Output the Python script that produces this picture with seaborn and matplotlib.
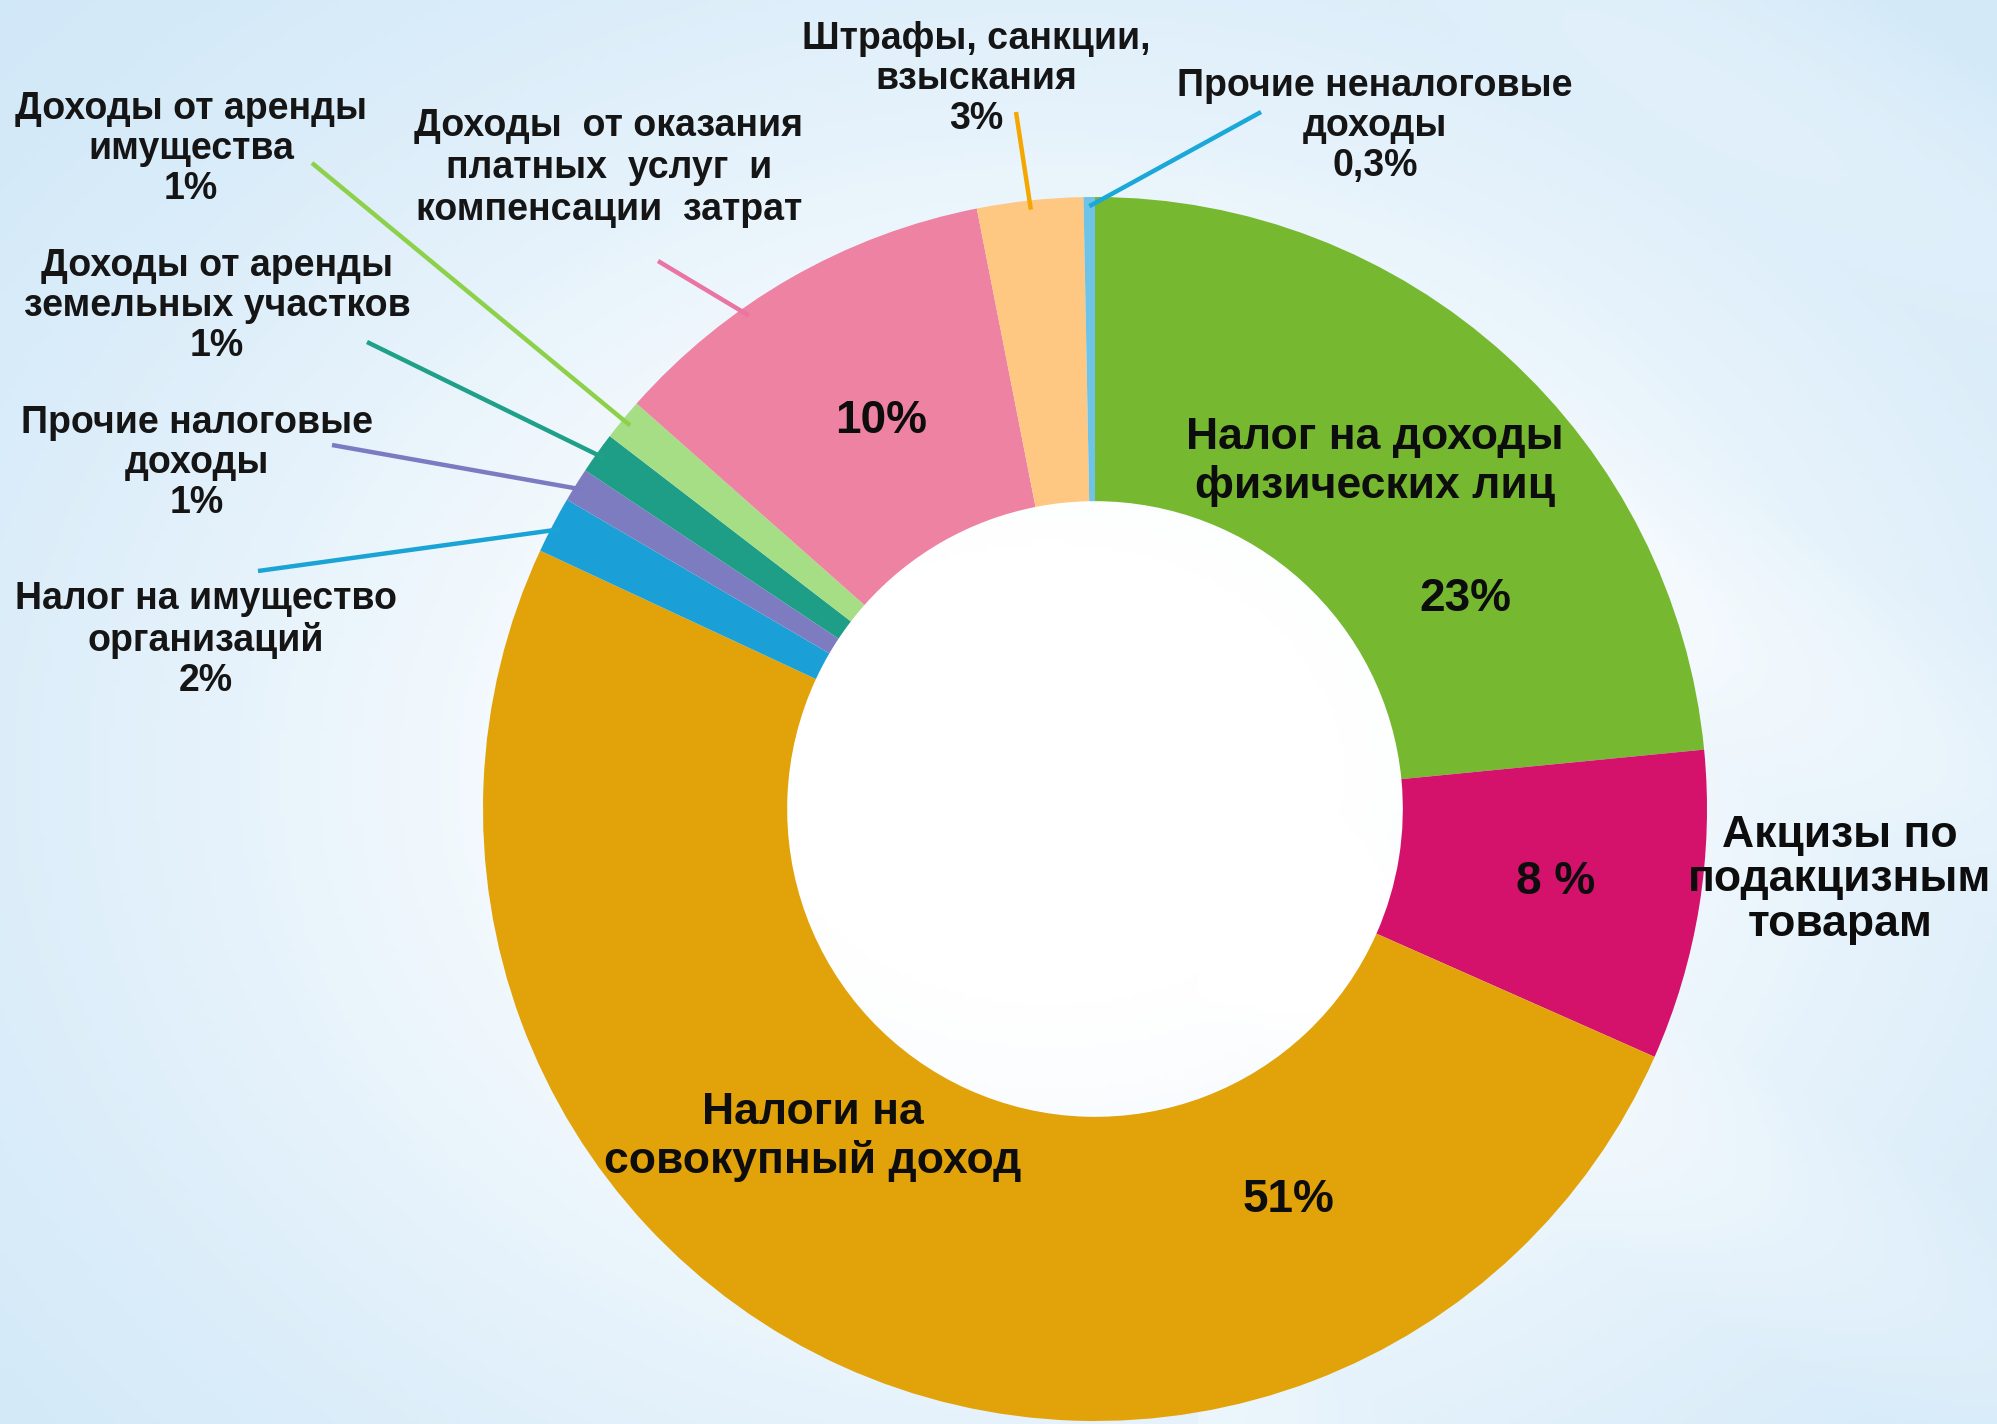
import numpy as np
import matplotlib
matplotlib.use("Agg")
import matplotlib.pyplot as plt
import seaborn as sns

# ---------------- data ----------------
categories = ['Налог на доходы физических лиц', 'Акцизы по подакцизным товарам',
              'Налоги на совокупный доход', 'Налог на имущество организаций',
              'Прочие налоговые доходы', 'Доходы от аренды земельных участков',
              'Доходы от аренды имущества',
              'Доходы от оказания платных услуг и компенсации затрат',
              'Штрафы, санкции, взыскания', 'Прочие неналоговые доходы']
shares = [23.5, 8.2, 50.4, 1.5, 0.9, 1.1, 1.1, 10.4, 2.8, 0.3]
pct_text = ['23%', '8 %', '51%', '2%', '1%', '1%', '1%', '10%', '3%', '0,3%']
label_text = ['Налог на доходы\nфизических лиц',
              'Акцизы по\nподакцизным\nтоварам',
              'Налоги на\nсовокупный доход',
              'Налог на имущество\nорганизаций',
              'Прочие налоговые\nдоходы',
              'Доходы от аренды\nземельных участков',
              'Доходы от аренды\nимущества',
              'Доходы  от оказания\nплатных  услуг  и\nкомпенсации  затрат',
              'Штрафы, санкции,\nвзыскания',
              'Прочие неналоговые\nдоходы']

slice_colors = ['#76B82F', '#D4126B', '#E2A20A', '#1A9FD6', '#7E7CC0',
                '#1E9E86', '#A6DE86', '#EE82A2', '#FFC882', '#6EC3E6']
line_colors = ['#76B82F', '#D4126B', '#E2A20A', '#1AA4D6', '#7B7BC2',
               '#1FA088', '#8DD04A', '#EA74A2', '#F4A700', '#1AA8D8']

# ---------------- layout (figure pixels, y from top) ----------------
W, H = 1997, 1424
cx, cy, R = 1095, 809, 612
# name label centre, pct label centre, name line spacing
big = {0: ((1375, 462), (1465, 599), 1.2),
       1: ((1840, 880), (1556, 882), 1.1),
       2: ((813, 1137), (1289, 1200), 1.2)}
small = {3: (206, 640), 4: (197, 463), 5: (217, 306), 6: (191, 149),
         7: (609, 168), 8: (976, 79), 9: (1375, 126)}
leader_start = {3: (258, 571), 4: (332, 445), 5: (367, 342), 6: (312, 163),
                7: (658, 261), 8: (1016, 112), 9: (1261, 112)}
leader_frac = {7: 0.64}
pink_pct = (881, 421)

sns.set_theme(style="white")
plt.rcParams['font.family'] = ['Liberation Sans', 'DejaVu Sans']
ink = '#0d0d0d'

fig = plt.figure(figsize=(W / 100, H / 100), dpi=100)
ax = fig.add_axes([0, 0, 1, 1])

# background: pale blue with a white glow round the chart
xx, yy = np.meshgrid(np.linspace(0, W, 400), np.linspace(0, H, 300))
glow = np.exp(-(((xx - 1050) / 950) ** 2 + ((yy - 650) / 750) ** 2))
rays = 0.12 * np.clip(np.sin((xx * 0.6 + yy) / 90.0), 0, 1) * (xx > 1200)
t = np.clip(glow * 1.1 + rays, 0, 1)[..., None]
edge = np.array([0.80, 0.90, 0.97])
bg = edge * (1 - t) + np.array([1.0, 1.0, 1.0]) * t
ax.imshow(bg, extent=(0, W, H, 0), origin='upper', zorder=0, aspect='auto')

wedges, _ = ax.pie(shares, colors=slice_colors, startangle=90, counterclock=False,
                   radius=R, center=(cx, H - cy),
                   wedgeprops=dict(width=R * 0.497, linewidth=0))
for w in wedges:
    w.set_zorder(2)
ax.set_xlim(0, W)
ax.set_ylim(0, H)
ax.axis('off')

name_fs, pct_fs, small_fs = 32, 33, 27

# labels inside / next to the big slices
for i, (name_xy, pct_xy, ls) in big.items():
    ax.text(name_xy[0], H - name_xy[1], label_text[i], ha='center', va='center',
            fontsize=name_fs, fontweight='bold', linespacing=ls, color=ink, zorder=5)
    ax.text(pct_xy[0], H - pct_xy[1], pct_text[i], ha='center', va='center',
            fontsize=pct_fs, fontweight='bold', color=ink, zorder=5)

ax.text(pink_pct[0], H - pink_pct[1], pct_text[7], ha='center', va='center',
        fontsize=pct_fs, fontweight='bold', color=ink, zorder=5)

# outside labels with leader lines
for i, (lx, ly) in small.items():
    txt = label_text[i] if i == 7 else label_text[i] + '\n' + pct_text[i]
    ax.text(lx, H - ly, txt, ha='center', va='center', fontsize=small_fs,
            fontweight='bold', linespacing=1.2 if i == 7 else 1.15,
            color='#151515', zorder=5)
    w = wedges[i]
    f = leader_frac.get(i, 0.5)
    ang = np.deg2rad(w.theta1 + f * (w.theta2 - w.theta1))
    ex, ey = cx + 0.985 * R * np.cos(ang), (H - cy) + 0.985 * R * np.sin(ang)
    sx, sy = leader_start[i]
    ax.plot([sx, ex], [H - sy, ey], color=line_colors[i], lw=3.2,
            solid_capstyle='butt', zorder=3)

fig.savefig('out.png', dpi=100)
